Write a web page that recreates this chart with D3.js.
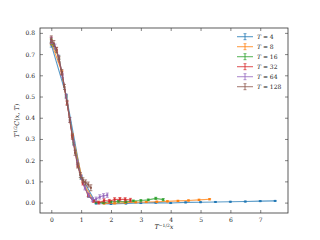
<!DOCTYPE html>
<html>
<head>
<meta charset="utf-8">
<script src="https://cdn.jsdelivr.net/npm/d3@7"></script>
<style>
  body { margin: 0; background: #fff; }
  text { font-family: "DejaVu Serif", "Liberation Serif", serif; }
</style>
</head>
<body>
<svg width="320" height="240"></svg>
<script>
var width = 320;
var height = 240;
var svg = d3.select('svg');

var padding = { t: 28, r: 32, b: 27, l: 40 };

// series labels and colours
var temps = [4, 8, 16, 32, 64, 128];
var colors = ["#1f77b4", "#ff7f0e", "#2ca02c", "#d62728", "#9467bd", "#8c564b"];

var xTicks = [0, 1, 2, 3, 4, 5, 6, 7];
var yTicks = [0.0, 0.1, 0.2, 0.3, 0.4, 0.5, 0.6, 0.7, 0.8];

// x values (T^-1/2 x) per series
var x4 = [0, 0.5, 1.0, 1.5, 2.0, 2.5, 3.0, 3.5, 4.0, 4.5, 5.0, 5.5, 6.0, 6.5, 7.0, 7.5];
var x8 = [0, 0.354, 0.707, 1.061, 1.414, 1.768, 2.121, 2.475, 2.828, 3.182, 3.536, 3.889, 4.243, 4.596, 4.950, 5.303];
var x16 = [0, 0.25, 0.5, 0.75, 1.0, 1.25, 1.5, 1.75, 2.0, 2.25, 2.5, 2.75, 3.0, 3.25, 3.5, 3.75];
var x32 = [0, 0.177, 0.354, 0.530, 0.707, 0.884, 1.061, 1.237, 1.414, 1.591, 1.768, 1.945, 2.121, 2.298, 2.475, 2.652];
var x64 = [0, 0.125, 0.25, 0.375, 0.5, 0.625, 0.75, 0.875, 1.0, 1.125, 1.25, 1.375, 1.5, 1.625, 1.75, 1.875];
var x128 = [0, 0.088, 0.177, 0.265, 0.354, 0.442, 0.530, 0.619, 0.707, 0.795, 0.884, 0.972, 1.061, 1.149, 1.237, 1.326];

// y values (T^1/2 C(x,T))
var y4 = [0.745, 0.505, 0.125, -0.004, -0.006, -0.004, -0.002, 0.000, -0.002, 0.001, 0.002, 0.003, 0.004, 0.005, 0.007, 0.008];
var y8 = [0.755, 0.615, 0.32, 0.095, 0.010, -0.004, -0.003, 0.000, 0.002, 0.003, 0.004, 0.006, 0.008, 0.010, 0.013, 0.016];
var y16 = [0.76, 0.685, 0.50, 0.28, 0.115, 0.03, 0.002, 0.000, 0.004, 0.006, 0.004, 0.008, 0.010, 0.013, 0.020, 0.014];
var y32 = [0.765, 0.72, 0.61, 0.47, 0.31, 0.175, 0.09, 0.035, 0.008, 0.000, 0.010, 0.007, 0.015, 0.016, 0.015, 0.012];
var y64 = [0.765, 0.735, 0.685, 0.60, 0.50, 0.39, 0.28, 0.19, 0.12, 0.07, 0.035, 0.014, 0.016, 0.027, 0.032, 0.035];
var y128 = [0.77, 0.75, 0.72, 0.675, 0.615, 0.545, 0.47, 0.39, 0.31, 0.235, 0.175, 0.13, 0.105, 0.095, 0.085, 0.07];

// error bar half-heights
var e4 = [0.012, 0.006, 0.004, 0.002, 0.002, 0.002, 0.002, 0.002, 0.002, 0.002, 0.002, 0.002, 0.002, 0.002, 0.002, 0.002];
var e8 = [0.012, 0.008, 0.005, 0.003, 0.003, 0.003, 0.003, 0.003, 0.003, 0.003, 0.003, 0.003, 0.003, 0.003, 0.003, 0.003];
var e16 = [0.012, 0.008, 0.006, 0.005, 0.004, 0.004, 0.004, 0.004, 0.004, 0.004, 0.004, 0.004, 0.004, 0.004, 0.005, 0.005];
var e32 = [0.014, 0.010, 0.008, 0.007, 0.007, 0.007, 0.007, 0.007, 0.007, 0.007, 0.008, 0.008, 0.008, 0.008, 0.008, 0.008];
var e64 = [0.015, 0.012, 0.010, 0.010, 0.010, 0.010, 0.010, 0.010, 0.010, 0.010, 0.010, 0.010, 0.010, 0.010, 0.010, 0.010];
var e128 = [0.016, 0.014, 0.012, 0.012, 0.012, 0.012, 0.012, 0.012, 0.012, 0.012, 0.012, 0.012, 0.012, 0.012, 0.012, 0.014];

var xsAll = [x4, x8, x16, x32, x64, x128];
var ysAll = [y4, y8, y16, y32, y64, y128];
var esAll = [e4, e8, e16, e32, e64, e128];

var series = temps.map(function (t, i) {
    return {
        T: t,
        color: colors[i],
        points: xsAll[i].map(function (x, j) {
            return { x: x, y: ysAll[i][j], e: esAll[i][j] };
        })
    };
});

var xScale = d3.scaleLinear().domain([-0.378, 7.93]).range([padding.l, width - padding.r]);
var yScale = d3.scaleLinear().domain([-0.049, 0.823]).range([height - padding.b, padding.t]);

// Axes (ticks pointing inward, mirrored on top/right)
var tickLen = 3;
svg.append("g")
    .attr("transform", "translate(0," + (height - padding.b) + ")")
    .call(d3.axisBottom(xScale).tickValues(xTicks).tickFormat(d3.format("d")).tickSizeInner(-tickLen).tickSizeOuter(0).tickPadding(5));
svg.append("g")
    .attr("transform", "translate(0," + padding.t + ")")
    .call(d3.axisTop(xScale).tickValues(xTicks).tickFormat("").tickSizeInner(-tickLen).tickSizeOuter(0));
svg.append("g")
    .attr("transform", "translate(" + padding.l + ",0)")
    .call(d3.axisLeft(yScale).tickValues(yTicks).tickFormat(d3.format(".1f")).tickSizeInner(-tickLen).tickSizeOuter(0).tickPadding(5));
svg.append("g")
    .attr("transform", "translate(" + (width - padding.r) + ",0)")
    .call(d3.axisRight(yScale).tickValues(yTicks).tickFormat("").tickSizeInner(-tickLen).tickSizeOuter(0));

svg.selectAll(".domain").remove();
svg.selectAll(".tick line").attr("stroke", "#333").attr("stroke-width", 0.6);
svg.selectAll(".tick text").style("font-size", "6px").attr("fill", "#222");

svg.append("rect")
    .attr("x", padding.l)
    .attr("y", padding.t)
    .attr("width", width - padding.l - padding.r)
    .attr("height", height - padding.b - padding.t)
    .attr("fill", "none")
    .attr("stroke", "#333")
    .attr("stroke-width", 0.8);

// Data
var line = d3.line().x(d => xScale(d.x)).y(d => yScale(d.y));

var groups = svg.append("g").selectAll("g")
    .data(series)
    .enter()
    .append("g");

groups.append("path")
    .attr("d", d => line(d.points))
    .attr("fill", "none")
    .attr("stroke", d => d.color)
    .attr("stroke-opacity", 0.75)
    .attr("stroke-width", 1.1);

groups.each(function (s) {
    var g = d3.select(this);
    var pts = g.selectAll(".eb").data(s.points).enter().append("g");
    pts.append("line")
        .attr("x1", d => xScale(d.x)).attr("x2", d => xScale(d.x))
        .attr("y1", d => yScale(d.y - d.e)).attr("y2", d => yScale(d.y + d.e))
        .attr("stroke", s.color).attr("stroke-width", 0.8);
    [-1, 1].forEach(function (sg) {
        pts.append("line")
            .attr("x1", d => xScale(d.x) - 1.5).attr("x2", d => xScale(d.x) + 1.5)
            .attr("y1", d => yScale(d.y + sg * d.e)).attr("y2", d => yScale(d.y + sg * d.e))
            .attr("stroke", s.color).attr("stroke-width", 0.7);
    });
    pts.append("rect")
        .attr("x", d => xScale(d.x) - 1).attr("y", d => yScale(d.y) - 1)
        .attr("width", 2).attr("height", 2)
        .attr("fill", s.color);
});

// Legend
var legend = svg.append("g").attr("transform", "translate(237,36.7)");
var rows = legend.selectAll("g").data(series).enter().append("g")
    .attr("transform", (d, i) => "translate(0," + (i * 10) + ")");
rows.append("line").attr("x1", 0).attr("x2", 16).attr("y1", 0).attr("y2", 0)
    .attr("stroke", d => d.color).attr("stroke-opacity", 0.75).attr("stroke-width", 1.1);
rows.append("line").attr("x1", 8).attr("x2", 8).attr("y1", -3).attr("y2", 3)
    .attr("stroke", d => d.color).attr("stroke-width", 0.8);
rows.append("line").attr("x1", 6.5).attr("x2", 9.5).attr("y1", -3).attr("y2", -3)
    .attr("stroke", d => d.color).attr("stroke-width", 0.7);
rows.append("line").attr("x1", 6.5).attr("x2", 9.5).attr("y1", 3).attr("y2", 3)
    .attr("stroke", d => d.color).attr("stroke-width", 0.7);
var lt = rows.append("text").attr("x", 20).attr("y", 2.2).style("font-size", "6px").attr("fill", "#222");
lt.append("tspan").style("font-style", "italic").text("T");
lt.append("tspan").text(d => " = " + d.T);

// Axis labels
var xl = svg.append("text")
    .attr("x", (padding.l + width - padding.r) / 2)
    .attr("y", 229)
    .attr("text-anchor", "middle")
    .style("font-size", "6.5px")
    .attr("fill", "#222");
xl.append("tspan").style("font-style", "italic").text("T");
xl.append("tspan").attr("dy", -2.5).style("font-size", "4.5px").text("\u22121/2");
xl.append("tspan").attr("dy", 2.5).style("font-style", "italic").text("x");

var yl = svg.append("text")
    .attr("transform", "translate(19," + ((padding.t + height - padding.b) / 2) + ") rotate(-90)")
    .attr("text-anchor", "middle")
    .style("font-size", "6.5px")
    .attr("fill", "#222");
yl.append("tspan").style("font-style", "italic").text("T");
yl.append("tspan").attr("dy", -2.5).style("font-size", "4.5px").text("1/2");
yl.append("tspan").attr("dy", 2.5).style("font-style", "italic").text("C");
yl.append("tspan").text("(");
yl.append("tspan").style("font-style", "italic").text("x");
yl.append("tspan").text(", ");
yl.append("tspan").style("font-style", "italic").text("T");
yl.append("tspan").text(")");
</script>
</body>
</html>
